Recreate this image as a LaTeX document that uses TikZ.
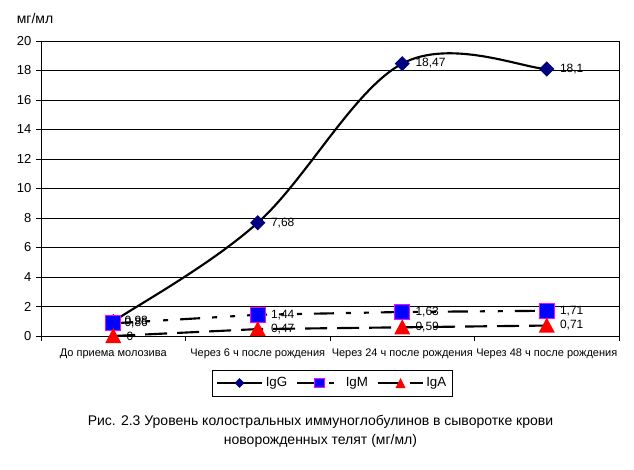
\documentclass[tikz,border=0pt]{standalone}
\usepackage{fontspec}
\setmainfont{Liberation Sans}
\usetikzlibrary{calc,shapes.geometric}
\definecolor{iggc}{RGB}{0,0,128}
\definecolor{igmc}{RGB}{0,0,255}
\definecolor{igmb}{RGB}{255,0,255}
\definecolor{igac}{RGB}{255,0,0}
\tikzset{
  gridline/.style={black, line width=0.75pt},
  ticklab/.style={anchor=east, inner sep=0pt, font=\fontsize{9.75}{10}\selectfont},
  catlab/.style={anchor=base, inner sep=0pt, font=\fontsize{8.25}{10}\selectfont},
  vallab/.style={anchor=west, inner sep=0pt, font=\fontsize{9}{10}\selectfont},
  leglab/.style={anchor=west, inner sep=0pt, font=\fontsize{10}{10}\selectfont},
  caplab/.style={anchor=base, inner sep=0pt, font=\fontsize{10.5}{12}\selectfont},
  serline/.style={line width=1.6pt, black},
  igmline/.style={serline, dash pattern=on 15pt off 9pt on 3.75pt off 9.75pt on 3.75pt off 9pt},
  igaline/.style={serline, dash pattern=on 16.5pt off 7.5pt},
  dmark/.style={diamond, fill=iggc, inner sep=0pt, minimum width=11.5pt, minimum height=11.5pt},
  smark/.style={rectangle, fill=igmc, draw=igmb, line width=0.75pt, inner sep=0pt, minimum size=11.25pt},
  dmarksm/.style={dmark, minimum width=7.5pt, minimum height=7.5pt},
  smarksm/.style={smark, minimum size=7pt},
  tri/.pic={\fill[igac] (0,-8) -- (8,7) -- (-8,7) -- cycle;},
  trism/.pic={\fill[igac] (0,-5) -- (5,5) -- (-5,5) -- cycle;}
}
\begin{document}
\begin{tikzpicture}[x=0.75pt,y=-0.75pt]
\useasboundingbox (0,0) rectangle (634,469);
% axes and grid
\foreach \v in {0,2,...,20}{
  \draw[gridline] (36,{336-14.75*\v}) -- (619,{336-14.75*\v});
  \node[ticklab] (yl\v) at (31.5,{336-14.75*\v}) {\v};
}
\draw[gridline] (41,41) -- (41,341);
\draw[gridline] (619,41) -- (619,341);
\foreach \xx in {185.5,330,474.5}{
  \draw[gridline] (\xx,336) -- (\xx,341);
}
\node[anchor=west, inner sep=0pt, font=\fontsize{10.5}{10}\selectfont] (unit) at (16.5,18) {мг/мл};
% categories
\node[catlab] (c0) at (113.25,356) {До приема молозива};
\node[catlab] (c1) at (257.75,356) {Через 6 ч после рождения};
\node[catlab] (c2) at (402.25,356) {Через 24 ч после рождения};
\node[catlab] (c3) at (546.75,356) {Через 48 ч после рождения};
% data points
\coordinate (g0) at (113.25,321.55);
\coordinate (g1) at (257.75,222.72);
\coordinate (g2) at (402.25,63.57);
\coordinate (g3) at (546.75,69.03);
\coordinate (m0) at (113.25,323.32);
\coordinate (m1) at (257.75,314.76);
\coordinate (m2) at (402.25,311.96);
\coordinate (m3) at (546.75,310.78);
\coordinate (a0) at (113.25,336);
\coordinate (a1) at (257.75,329.07);
\coordinate (a2) at (402.25,327.30);
\coordinate (a3) at (546.75,325.53);
% IgG smoothed
\draw[serline] (g0) .. controls ($(g0)!1/6!(g1)$) and ($(g1)-1/6*(g2)+1/6*(g0)$) .. (g1)
  .. controls ($(g1)+1/6*(g2)-1/6*(g0)$) and ($(g2)-1/6*(g3)+1/6*(g1)$) .. (g2)
  .. controls ($(g2)+1/6*(g3)-1/6*(g1)$) and ($(g3)!1/6!(g2)$) .. (g3);
\foreach \i in {0,1,2,3}{ \node[dmark] (gm\i) at (g\i) {}; }
% IgM
\draw[igmline] (m0) -- (m1) -- (m2) -- (m3);
\foreach \i in {0,1,2,3}{ \node[smark] (mm\i) at (m\i) {}; }
% IgA
\draw[igaline] (a0) -- (a1) -- (a2) -- (a3);
\foreach \i in {0,1,2,3}{ \pic at (a\i) {tri}; }
% value labels
\node[vallab] (lg0) at ($(g0)+(11,0)$) {0,98};
\node[vallab] (lg1) at ($(g1)+(13,0)$) {7,68};
\node[vallab] (lg2) at ($(g2)+(13,0)$) {18,47};
\node[vallab] (lg3) at ($(g3)+(13,0)$) {18,1};
\node[vallab] (lm0) at ($(m0)+(11,0)$) {0,86};
\node[vallab] (lm1) at ($(m1)+(13,0)$) {1,44};
\node[vallab] (lm2) at ($(m2)+(13,0)$) {1,63};
\node[vallab] (lm3) at ($(m3)+(13,0)$) {1,71};
\node[vallab] (la0) at ($(a0)+(13,0)$) {0};
\node[vallab] (la1) at ($(a1)+(13,0)$) {0,47};
\node[vallab] (la2) at ($(a2)+(13,0)$) {0,59};
\node[vallab] (la3) at ($(a3)+(13,0)$) {0,71};
% legend
\draw[line width=0.75pt] (212,370) rectangle (452,396);
\coordinate (lgs) at (217,383); \coordinate (lge) at (262,383);
\draw[serline] (lgs) -- (lge);
\node[dmarksm] (lgd) at (239.5,383) {};
\node[leglab] (tg) at (265.5,383) {IgG};
\coordinate (lms) at (297,383); \coordinate (lme) at (342,383);
\draw[igmline] (lms) -- (lme);
\node[smarksm] (lmd) at (319.5,383) {};
\node[leglab] (tm) at (345.5,383) {IgM};
\coordinate (las) at (378,383); \coordinate (lae) at (423,383);
\draw[igaline] (las) -- (lae);
\pic at (400.5,383) {trism};
\node[leglab] (ta) at (426,383) {IgA};
% caption
\node[caplab] (cap1) at (320.5,425) {Рис. 2.3 Уровень колостральных иммуноглобулинов в сыворотке крови};
\node[caplab] (cap2) at (320.5,444) {новорожденных телят (мг/мл)};
\end{tikzpicture}
\end{document}
